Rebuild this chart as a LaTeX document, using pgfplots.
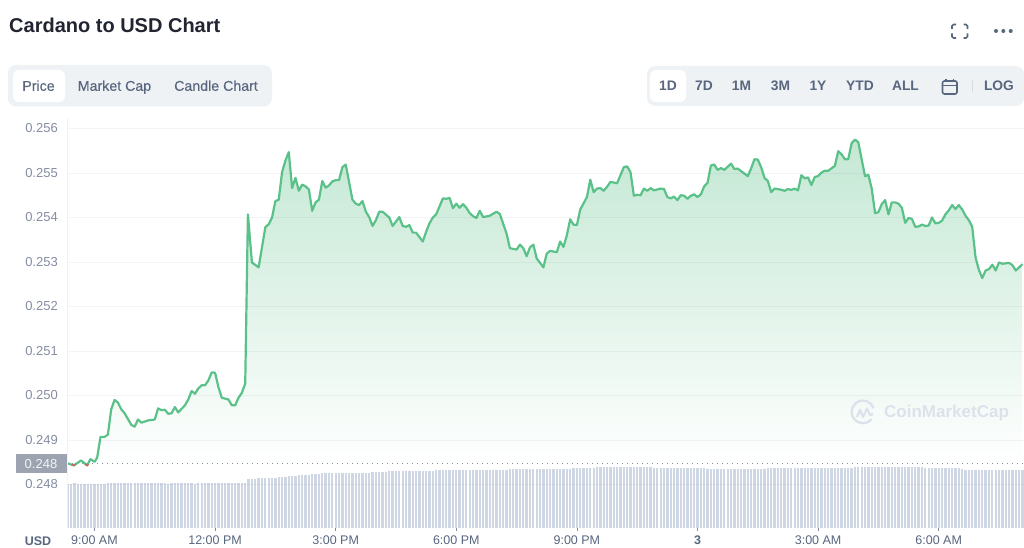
\documentclass[border=0pt]{standalone}
\usepackage{fontspec}
\setmainfont{Liberation Sans}
\usepackage{pgfplots}
\usepackage{pgfplotstable}
\pgfplotsset{compat=1.18}

\definecolor{lineg}{HTML}{5AC189}
\definecolor{fillg}{HTML}{C4E8D4}
\definecolor{barc}{HTML}{CFD6E4}
\definecolor{pill}{HTML}{EFF2F5}
\definecolor{slate}{HTML}{58667E}
\definecolor{ticktxt}{HTML}{858CA2}
\definecolor{gridc}{HTML}{5A6E8C}
\definecolor{wmark}{HTML}{DDE1EC}
\definecolor{tagc}{HTML}{9DA3B0}
\definecolor{below}{HTML}{C8695A}
\definecolor{titlec}{HTML}{222531}

% price, x in minutes after 9:00 AM
\pgfplotstableread{
m p
-41 0.24848
-31 0.24843
-20 0.24854
-11 0.24843
-6 0.24857
0 0.24851
4 0.24860
9 0.24907
15 0.24907
20 0.24912
25 0.24969
30 0.24990
35 0.24984
40 0.24969
45 0.24960
55 0.24934
60 0.24930
65 0.24946
70 0.24939
80 0.24944
90 0.24946
95 0.24971
100 0.24967
105 0.24968
110 0.24959
115 0.24960
120 0.24974
125 0.24962
135 0.24978
140 0.24991
145 0.25010
150 0.25004
155 0.25016
160 0.25023
165 0.25023
170 0.25034
175 0.25052
180 0.25051
185 0.25019
190 0.24995
200 0.24991
205 0.24978
210 0.24978
215 0.24995
220 0.25006
225 0.25027
229 0.25407
235 0.25299
245 0.25288
255 0.25378
260 0.25385
265 0.25400
270 0.25437
275 0.25440
280 0.25502
285 0.25528
290 0.25547
295 0.25466
300 0.25489
305 0.25460
310 0.25474
315 0.25470
320 0.25463
325 0.25415
330 0.25434
335 0.25440
340 0.25482
345 0.25467
350 0.25472
355 0.25481
360 0.25484
365 0.25484
370 0.25513
375 0.25519
385 0.25440
390 0.25431
395 0.25428
400 0.25437
405 0.25413
410 0.25401
415 0.25381
420 0.25394
425 0.25413
430 0.25413
440 0.25400
445 0.25381
455 0.25401
460 0.25381
465 0.25379
470 0.25383
475 0.25366
480 0.25366
490 0.25346
495 0.25368
500 0.25387
505 0.25400
510 0.25407
520 0.25443
525 0.25442
530 0.25444
535 0.25421
540 0.25431
545 0.25422
550 0.25430
555 0.25422
560 0.25410
565 0.25403
570 0.25399
575 0.25415
580 0.25401
590 0.25404
600 0.25413
605 0.25408
615 0.25364
620 0.25331
630 0.25328
635 0.25339
640 0.25331
645 0.25313
650 0.25333
655 0.25339
660 0.25308
670 0.25288
675 0.25319
680 0.25325
690 0.25322
695 0.25346
700 0.25334
705 0.25360
710 0.25396
715 0.25384
720 0.25383
725 0.25418
735 0.25446
740 0.25485
745 0.25457
750 0.25465
755 0.25466
760 0.25460
765 0.25469
770 0.25480
780 0.25477
790 0.25513
795 0.25515
800 0.25502
805 0.25449
810 0.25451
815 0.25450
820 0.25465
825 0.25460
830 0.25466
835 0.25461
845 0.25465
850 0.25464
855 0.25446
860 0.25443
865 0.25447
870 0.25439
875 0.25450
880 0.25449
885 0.25442
890 0.25449
895 0.25452
900 0.25446
905 0.25452
910 0.25470
915 0.25478
920 0.25517
925 0.25519
930 0.25507
935 0.25511
940 0.25507
950 0.25521
955 0.25509
960 0.25510
975 0.25493
980 0.25510
985 0.25531
990 0.25530
995 0.25513
1000 0.25489
1005 0.25482
1010 0.25457
1015 0.25465
1023 0.25463
1030 0.25460
1035 0.25464
1040 0.25462
1045 0.25465
1050 0.25461
1055 0.25495
1060 0.25488
1065 0.25490
1070 0.25473
1075 0.25491
1080 0.25493
1085 0.25501
1090 0.25505
1095 0.25505
1105 0.25516
1110 0.25549
1115 0.25542
1120 0.25531
1125 0.25531
1130 0.25567
1135 0.25575
1140 0.25569
1150 0.25493
1155 0.25496
1160 0.25465
1165 0.25410
1170 0.25412
1175 0.25430
1180 0.25439
1185 0.25407
1190 0.25434
1195 0.25434
1200 0.25431
1205 0.25422
1210 0.25388
1215 0.25399
1220 0.25397
1225 0.25379
1230 0.25380
1235 0.25384
1240 0.25381
1245 0.25382
1250 0.25400
1255 0.25387
1260 0.25388
1265 0.25393
1270 0.25407
1275 0.25416
1280 0.25428
1285 0.25419
1290 0.25428
1295 0.25418
1300 0.25404
1305 0.25394
1310 0.25379
1315 0.25310
1320 0.25282
1325 0.25264
1330 0.25281
1335 0.25284
1340 0.25294
1345 0.25281
1350 0.25299
1355 0.25296
1365 0.25298
1370 0.25293
1375 0.25281
1385 0.25295
}\pricedata

\begin{document}
\begin{tikzpicture}
\useasboundingbox (0,0) rectangle (1024pt,547pt);
\clip (0,0) rectangle (1024pt,547pt);

% volume bars, no scale shown
\begin{axis}[
  at={(67pt,19pt)}, anchor=south west,
  scale only axis, width=957pt, height=70pt,
  xmin=-41, xmax=1387.3, ymin=0, ymax=70,
  hide axis,
]
\addplot[ycomb,draw=barc,line width=2.3pt,no marks] coordinates {
(-40,44.5)(-35,44.5)(-30,44.6)(-25,44.5)(-20,44.3)(-15,44.3)(-10,44.2)(-5,44.2)(0,44.3)(5,44.3)(10,44.3)(15,44.3)
(20,44.6)(25,44.7)(30,44.7)(35,44.7)(40,44.7)(45,44.7)(50,44.7)(55,44.7)(60,44.7)(65,44.7)(70,44.7)(75,44.7)
(80,44.7)(85,44.7)(90,44.7)(95,44.7)(100,44.7)(105,44.7)(110,44.5)(115,44.8)(120,44.8)(125,44.8)(130,44.8)(135,44.8)
(140,44.8)(145,44.7)(150,44.5)(155,44.7)(160,44.7)(165,44.7)(170,44.7)(175,44.7)(180,44.7)(185,44.7)(190,44.7)(195,44.7)
(200,44.7)(205,45.0)(210,45.0)(215,44.8)(220,44.8)(225,44.8)(230,48.7)(235,49.0)(240,49.4)(245,49.6)(250,49.7)(255,49.9)
(260,50.0)(265,50.3)(270,50.5)(275,50.7)(280,50.7)(285,50.9)(290,51.6)(295,52.0)(300,52.3)(305,52.7)(310,53.0)(315,53.2)
(320,53.4)(325,53.7)(330,53.9)(335,54.3)(340,54.6)(345,54.7)(350,54.7)(355,54.7)(360,54.7)(365,54.7)(370,54.7)(375,54.8)
(380,54.9)(385,55.0)(390,55.1)(395,55.2)(400,55.3)(405,55.4)(410,55.5)(415,55.6)(420,55.7)(425,55.9)(430,56.2)(435,56.5)
(440,56.7)(445,56.7)(450,56.7)(455,56.7)(460,56.8)(465,56.8)(470,56.8)(475,56.9)(480,56.9)(485,56.9)(490,57.0)(495,57.0)
(500,57.2)(505,57.4)(510,57.6)(515,57.8)(520,58.0)(525,58.0)(530,58.0)(535,58.0)(540,58.0)(545,58.0)(550,58.1)(555,58.1)
(560,58.1)(565,58.2)(570,58.2)(575,58.2)(580,58.3)(585,58.3)(590,58.4)(595,58.4)(600,58.4)(605,58.5)(610,58.5)(615,58.5)
(620,58.6)(625,58.6)(630,58.6)(635,58.7)(640,58.7)(645,58.7)(650,58.7)(655,58.8)(660,58.9)(665,59.0)(670,59.1)(675,59.2)
(680,59.3)(685,59.3)(690,59.3)(695,59.4)(700,59.4)(705,59.5)(710,59.5)(715,59.6)(720,59.7)(725,59.7)(730,59.7)(735,59.8)
(740,60.0)(745,60.4)(750,60.7)(755,60.7)(760,60.8)(765,60.8)(770,60.8)(775,60.8)(780,60.9)(785,61.0)(790,61.0)(795,61.0)
(800,61.0)(805,61.0)(810,61.0)(815,61.0)(820,61.0)(825,61.0)(830,60.6)(835,60.3)(840,60.3)(845,60.2)(850,60.2)(855,60.1)
(860,60.1)(865,60.0)(870,60.0)(875,59.9)(880,59.9)(885,59.8)(890,59.8)(895,59.7)(900,59.7)(905,59.6)(910,59.6)(915,59.5)
(920,59.5)(925,59.4)(930,59.4)(935,59.3)(940,59.3)(945,59.2)(950,59.2)(955,59.1)(960,59.1)(965,59.0)(970,59.0)(975,59.0)
(980,59.1)(985,59.2)(990,59.3)(995,59.4)(1000,59.5)(1005,59.6)(1010,59.7)(1015,59.8)(1020,59.9)(1025,60.0)(1030,60.0)(1035,60.0)
(1040,59.9)(1045,59.8)(1050,59.7)(1055,59.7)(1060,59.6)(1065,59.6)(1070,59.6)(1075,59.6)(1080,59.6)(1085,59.7)(1090,59.8)(1095,59.9)
(1100,60.0)(1105,60.1)(1110,60.2)(1115,60.3)(1120,60.4)(1125,60.4)(1130,60.5)(1135,60.6)(1140,60.6)(1145,60.7)(1150,60.7)(1155,60.7)
(1160,60.8)(1165,61.0)(1170,61.0)(1175,61.0)(1180,61.0)(1185,61.0)(1190,61.0)(1195,61.0)(1200,61.0)(1205,61.0)(1210,61.0)(1215,61.0)
(1220,61.0)(1225,61.0)(1230,60.6)(1235,60.6)(1240,60.5)(1245,60.5)(1250,60.5)(1255,60.4)(1260,60.4)(1265,60.4)(1270,60.4)(1275,60.4)
(1280,60.4)(1285,60.4)(1290,60.3)(1295,58.6)(1300,58.2)(1305,57.9)(1310,57.7)(1315,57.7)(1320,57.7)(1325,57.7)(1330,57.9)(1335,57.9)
(1340,57.9)(1345,57.9)(1350,58.0)(1355,58.0)(1360,57.9)(1365,57.9)(1370,57.9)(1375,57.9)(1380,57.9)(1385,57.9)
};
\end{axis}

% price axis
\begin{axis}[
  at={(67pt,19pt)}, anchor=south west,
  scale only axis, width=957pt, height=409.7pt,
  xmin=-41, xmax=1387.3,
  ymin=0.2470225, ymax=0.256229,
  axis lines=left,
  axis line style={-},
  x axis line style={draw=none},
  y axis line style={draw=pill},
  axis on top,
  ymajorgrids,
  grid style={draw=gridc,opacity=0.08,line width=1pt},
  ytick={0.248,0.249,0.250,0.251,0.252,0.253,0.254,0.255,0.256},
  xtick={0,180,360,540,720,900,1080,1260},
  xticklabels={9:00 AM,12:00 PM,3:00 PM,6:00 PM,9:00 PM,\textbf{3},3:00 AM,6:00 AM},
  scaled y ticks=false,
  yticklabel style={/pgf/number format/fixed,/pgf/number format/fixed zerofill,/pgf/number format/precision=3,/pgf/number format/assume math mode=true,text=ticktxt,xshift=-6pt,inner sep=0pt,font=\fontsize{13}{15}\selectfont},
  tick align=outside,
  major tick length=3pt,
  y tick style={draw=none},
  x tick style={draw=ticktxt,line width=0.8pt},
  xticklabel style={text=slate,inner sep=0pt,anchor=north,yshift=-5pt,font=\fontsize{12.5}{15}\selectfont},
]
\addplot[draw=none,top color=fillg,bottom color=white] table[x=m,y=p] {\pricedata}
  -- (axis cs:1385,0.24848) -- (axis cs:-41,0.24848) -- cycle;
\addplot[draw=ticktxt,line width=0.8pt,dash pattern=on 1pt off 4pt] coordinates {(-41,0.24848) (1387,0.24848)};
\addplot[lineg,line width=2.2pt,line join=round] table[x=m,y=p] {\pricedata};
\addplot[draw=below,line width=1.6pt] coordinates {(-34,0.24845) (-31,0.24843) (-28,0.24845)};
\addplot[draw=below,line width=1.6pt] coordinates {(-14,0.24846) (-11,0.24843) (-9,0.24846)};
\end{axis}

% page furniture, in pixel coordinates of the reference
\begin{scope}[x=1pt,y=-1pt,yshift=547pt]
  \node[anchor=west,inner sep=0pt,text=titlec] at (9,25) {\fontsize{20}{24}\selectfont\bfseries Cardano to USD Chart};

  \fill[pill,rounded corners=8pt] (8,65) rectangle (272,106.5);
  \fill[white,rounded corners=6pt] (13,70) rectangle (65,102);
  \fill[pill,rounded corners=8pt] (647,66) rectangle (1024,106);
  \fill[white,rounded corners=6pt] (650,70) rectangle (686,102);
  \begin{scope}[every node/.style={anchor=base,inner sep=0pt,text=slate,font=\fontsize{14.2}{16}\selectfont\addfontfeature{FakeBold=0.3}}]
    \node at (38.5,90.8) {Price};
    \node at (114.5,90.8) {Market Cap};
    \node at (216,90.8) {Candle Chart};
  \end{scope}
  \begin{scope}[every node/.style={anchor=base,inner sep=0pt,text=slate,font=\fontsize{13.8}{16}\bfseries\selectfont}]
    \node at (668,90.8) {1D};
    \node at (704,90.8) {7D};
    \node at (741.5,90.8) {1M};
    \node at (780.5,90.8) {3M};
    \node at (818,90.8) {1Y};
    \node at (860,90.8) {YTD};
    \node at (905.5,90.8) {ALL};
    \node at (999,90.8) {LOG};
  \end{scope}
  \draw[pill!85!slate,line width=1pt] (972,80) -- (972,92);

  % calendar icon
  \draw[slate,line width=1.6pt,rounded corners=2pt] (942.5,81) rectangle (957,94);
  \draw[slate,line width=1.6pt] (942.5,85.5) -- (957,85.5);
  \draw[slate,line width=1.6pt] (946,79) -- (946,82.5) (953.5,79) -- (953.5,82.5);

  % expand icon and menu dots
  \begin{scope}[slate,line width=1.6pt,rounded corners=1.5pt]
    \draw (952,29) -- (952,24.5) -- (956,24.5);
    \draw (963.5,24.5) -- (967.5,24.5) -- (967.5,29);
    \draw (952,33.5) -- (952,38) -- (956,38);
    \draw (963.5,38) -- (967.5,38) -- (967.5,33.5);
  \end{scope}
  \fill[slate] (996,31) circle (2pt) (1003.3,31) circle (2pt) (1010.7,31) circle (2pt);

  % current price tag
  \fill[tagc] (16,454) rectangle (67,473.3);
  \node[inner sep=0pt,text=white!90!ticktxt] at (41,463.6) {\fontsize{13}{15}\selectfont 0.248};
  \node[inner sep=0pt,text=slate] at (38,541) {\fontsize{12.5}{15}\bfseries\selectfont USD};

  % watermark
  \draw[wmark,line width=2.3pt] (873.5,408) arc[start angle=20,end angle=320,radius=11.3pt];
  \draw[wmark,line width=2.2pt,line join=round] (857,417) -- (860,410) -- (863,417) -- (867,408.5) -- (870,415) -- (873,414);
  \node[anchor=west,inner sep=0pt,text=wmark] at (884,413) {\fontsize{17}{20}\bfseries\selectfont CoinMarketCap};
\end{scope}
\end{tikzpicture}
\end{document}
